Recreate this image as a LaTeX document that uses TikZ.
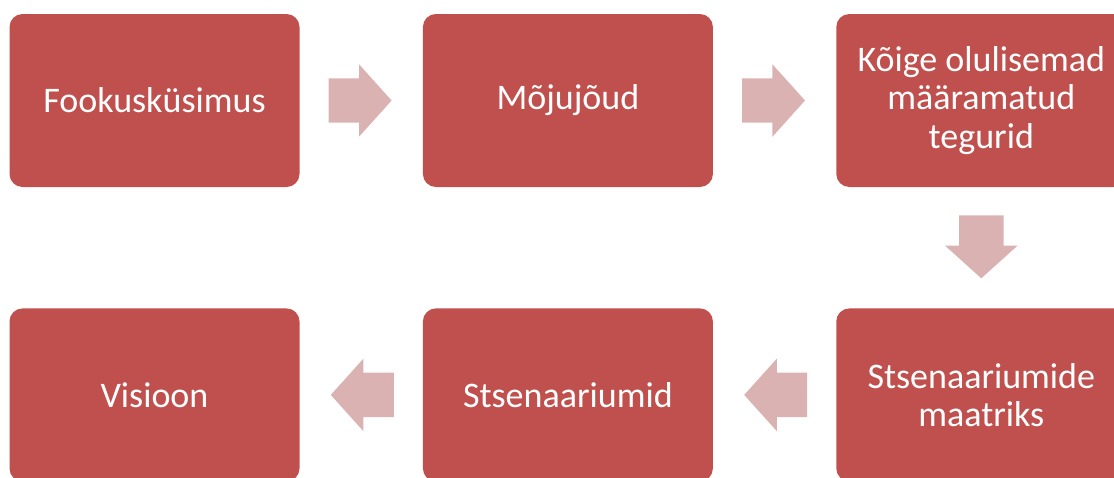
\documentclass[tikz,border=0pt]{standalone}
\usepackage{fontspec}
\setmainfont{Carlito}
\usetikzlibrary{positioning,calc,shapes.arrows}

\definecolor{kast}{RGB}{192,80,77}
\definecolor{nool}{RGB}{219,178,178}

\tikzset{
	samm/.style={rectangle, rounded corners=13pt, fill=kast, text=white,
		minimum width=290pt, minimum height=173pt, align=center,
		font=\fontsize{36}{38.5}\selectfont},
	plokknool/.style={single arrow, fill=nool, draw=none, inner xsep=0pt,
		inner ysep=22pt, single arrow head extend=14pt,
		single arrow tip angle=96, minimum height=63pt},
	allanool/.style={plokknool, shape border rotate=270, inner xsep=22pt, inner ysep=0pt},
}

\begin{document}
\begin{tikzpicture}[node distance=121pt and 123pt]
	\useasboundingbox (0,0) rectangle (1114pt,-477pt);

	\node [samm] (fookus) at (154.5pt,-100.5pt) {Fookusküsimus};
	\node [samm, right=of fookus] (mojud) {Mõjujõud};
	\node [samm, right=of mojud] (tegurid) {Kõige olulisemad\\määramatud\\tegurid};
	\node [samm, below=of tegurid] (maatriks) {Stsenaariumide\\maatriks};
	\node [samm, below=of mojud] (stsenaariumid) {Stsenaariumid};
	\node [samm, below=of fookus] (visioon) {Visioon};

	% nooled kastide vahel
	\node [plokknool] (n1) at ($(fookus.east)!0.41!(mojud.west)$) {};
	\node [plokknool] (n2) at ($(mojud.east)!0.41!(tegurid.west)$) {};
	\node [allanool] (n3) at ($(tegurid.south)!0.41!(maatriks.north)$) {};
	\node [plokknool, shape border rotate=180] (n4) at ($(maatriks.west)!0.41!(stsenaariumid.east)$) {};
	\node [plokknool, shape border rotate=180] (n5) at ($(stsenaariumid.west)!0.41!(visioon.east)$) {};
\end{tikzpicture}
\end{document}
